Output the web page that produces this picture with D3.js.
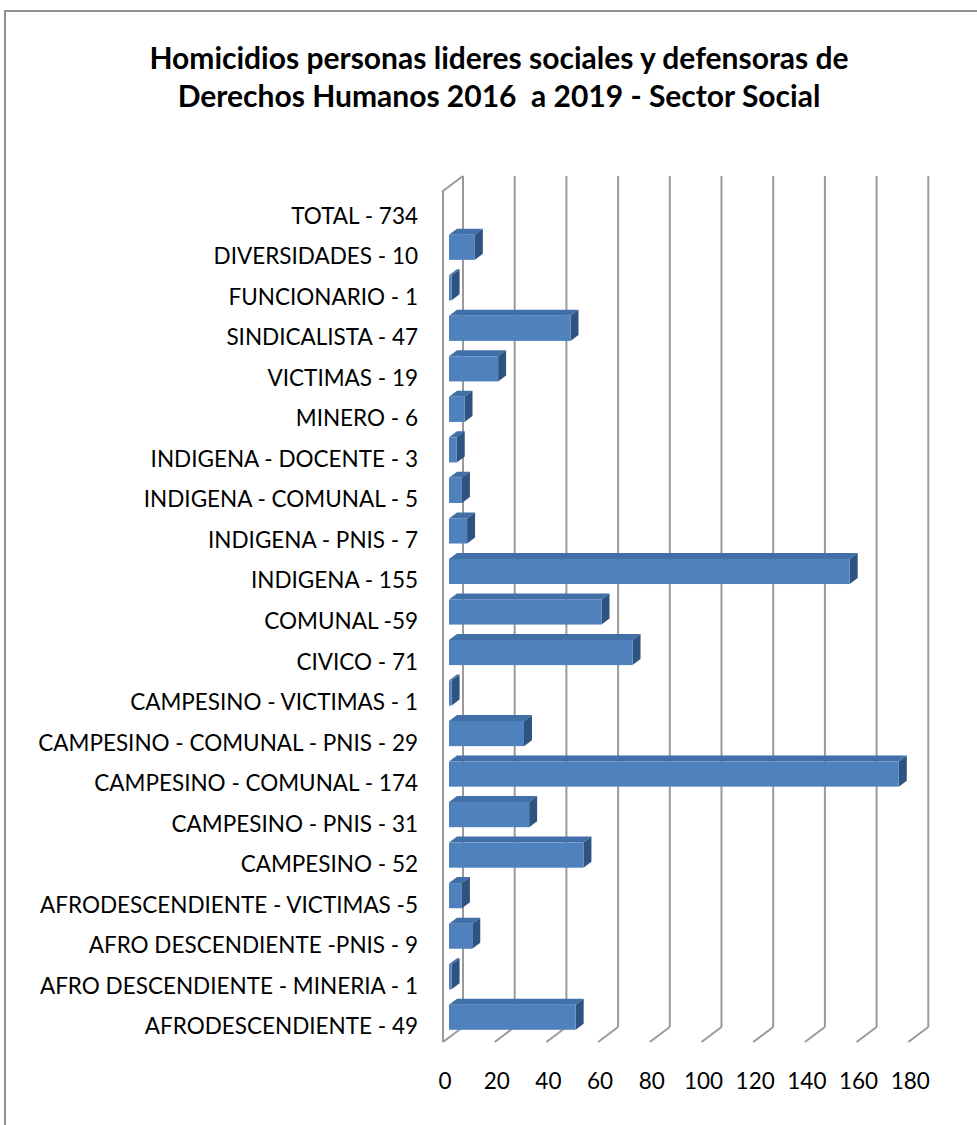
<!DOCTYPE html>
<html>
<head>
<meta charset="utf-8">
<script src="https://cdn.jsdelivr.net/npm/d3@7/dist/d3.min.js"></script>
<style>
  html, body { margin: 0; padding: 0; background: #fff; }
  svg { display: block; }
  text { font-family: Lato, "Open Sans", sans-serif; fill: #000; }
</style>
</head>
<body>
<svg id="chart" width="977" height="1125"></svg>
<script>
// Categories, top to bottom as listed on the axis
const categories = [
  "TOTAL - 734",
  "DIVERSIDADES - 10",
  "FUNCIONARIO - 1",
  "SINDICALISTA - 47",
  "VICTIMAS - 19",
  "MINERO - 6",
  "INDIGENA - DOCENTE - 3",
  "INDIGENA - COMUNAL - 5",
  "INDIGENA - PNIS - 7",
  "INDIGENA - 155",
  "COMUNAL -59",
  "CIVICO - 71",
  "CAMPESINO - VICTIMAS - 1",
  "CAMPESINO - COMUNAL - PNIS - 29",
  "CAMPESINO - COMUNAL - 174",
  "CAMPESINO - PNIS - 31",
  "CAMPESINO - 52",
  "AFRODESCENDIENTE - VICTIMAS -5",
  "AFRO DESCENDIENTE -PNIS - 9",
  "AFRO DESCENDIENTE - MINERIA - 1",
  "AFRODESCENDIENTE - 49"
];
// Homicides per sector (the TOTAL row carries no bar)
const values = [null, 10, 1, 47, 19, 6, 3, 5, 7, 155, 59, 71, 1, 29, 174, 31, 52, 5, 9, 1, 49];
const xTicks = [0, 20, 40, 60, 80, 100, 120, 140, 160, 180];
const titleLines = [
  "Homicidios personas lideres sociales y defensoras de",
  "Derechos Humanos 2016  a 2019 - Sector Social"
];

const svg = d3.select("#chart");

// Outer frame
svg.append("path")
  .attr("d", "M5,1125 V11 H977")
  .attr("fill", "none")
  .attr("stroke", "#8e8e8e")
  .attr("stroke-width", 2);

// Title
svg.append("text")
  .attr("x", 499).attr("y", 69)
  .attr("text-anchor", "middle")
  .attr("font-size", 30).attr("font-weight", "bold")
  .attr("xml:space", "preserve")
  .style("white-space", "pre")
  .selectAll("tspan").data(titleLines).join("tspan")
  .attr("x", 499).attr("dy", (d, i) => i === 0 ? 0 : 38)
  .text(d => d);

// Front plane of the plot and depth offset of the back wall
const front = { left: 443, top: 191, bottom: 1042 };
const depth = { dx: 20, dy: -15 };
// Bars sit in the middle of the depth
const barFront = { dx: 6, dy: -4.5 };
const barBack = { dx: 14, dy: -10.5 };

const x = d3.scaleLinear().domain([0, 180]).range([front.left, front.left + 465.3]);
const y = d3.scaleBand().domain(categories).range([front.top, front.bottom])
  .paddingInner(0.38).paddingOuter(0.19);

const gridColor = "#9a9a9a";
const grid = svg.append("g").attr("stroke", gridColor).attr("stroke-width", 2).attr("fill", "none");

// Back wall vertical gridlines
grid.selectAll("line.back").data(xTicks).join("line")
  .attr("class", "back")
  .attr("x1", d => x(d) + depth.dx).attr("x2", d => x(d) + depth.dx)
  .attr("y1", front.top + depth.dy).attr("y2", front.bottom + depth.dy);

// Floor diagonals
grid.selectAll("line.floor").data(xTicks).join("line")
  .attr("class", "floor")
  .attr("x1", d => x(d)).attr("y1", front.bottom)
  .attr("x2", d => x(d) + depth.dx).attr("y2", front.bottom + depth.dy);

// Side wall at zero
grid.append("path")
  .attr("d", `M${x(0)},${front.bottom} V${front.top} L${x(0) + depth.dx},${front.top + depth.dy}`);

// Bars
const bars = categories.map((c, i) => ({ c, v: values[i] })).filter(d => d.v != null);
const colFront = "#4f81bd", colTop = "#416fa8", colSide = "#2f5380";

const g = svg.append("g");
bars.forEach(d => {
  const x0 = x(0) + barFront.dx;
  const x1 = x(d.v) + barFront.dx;
  const y0 = y(d.c) + barFront.dy;
  const y1 = y0 + y.bandwidth();
  const ddx = barBack.dx - barFront.dx, ddy = barBack.dy - barFront.dy;
  const bar = g.append("g");
  // top face
  bar.append("path")
    .attr("d", `M${x0},${y0} L${x0 + ddx},${y0 + ddy} L${x1 + ddx},${y0 + ddy} L${x1},${y0} Z`)
    .attr("fill", colTop);
  // side face
  bar.append("path")
    .attr("d", `M${x1},${y0} L${x1 + ddx},${y0 + ddy} L${x1 + ddx},${y1 + ddy} L${x1},${y1} Z`)
    .attr("fill", colSide);
  // front face
  bar.append("rect")
    .attr("x", x0).attr("y", y0)
    .attr("width", Math.max(0, x1 - x0)).attr("height", y1 - y0)
    .attr("fill", colFront);
});

// Category labels
svg.append("g").selectAll("text").data(categories).join("text")
  .attr("x", 418)
  .attr("y", d => y(d) + y.bandwidth() / 2 + 4)
  .attr("text-anchor", "end")
  .attr("dominant-baseline", "central")
  .attr("font-size", 22.5)
  .text(d => d);

// Value axis labels
svg.append("g").selectAll("text").data(xTicks).join("text")
  .attr("x", d => x(d) + 2)
  .attr("y", 1080)
  .attr("text-anchor", "middle")
  .attr("dominant-baseline", "central")
  .attr("font-size", 22.5)
  .text(d => d);
</script>
</body>
</html>
